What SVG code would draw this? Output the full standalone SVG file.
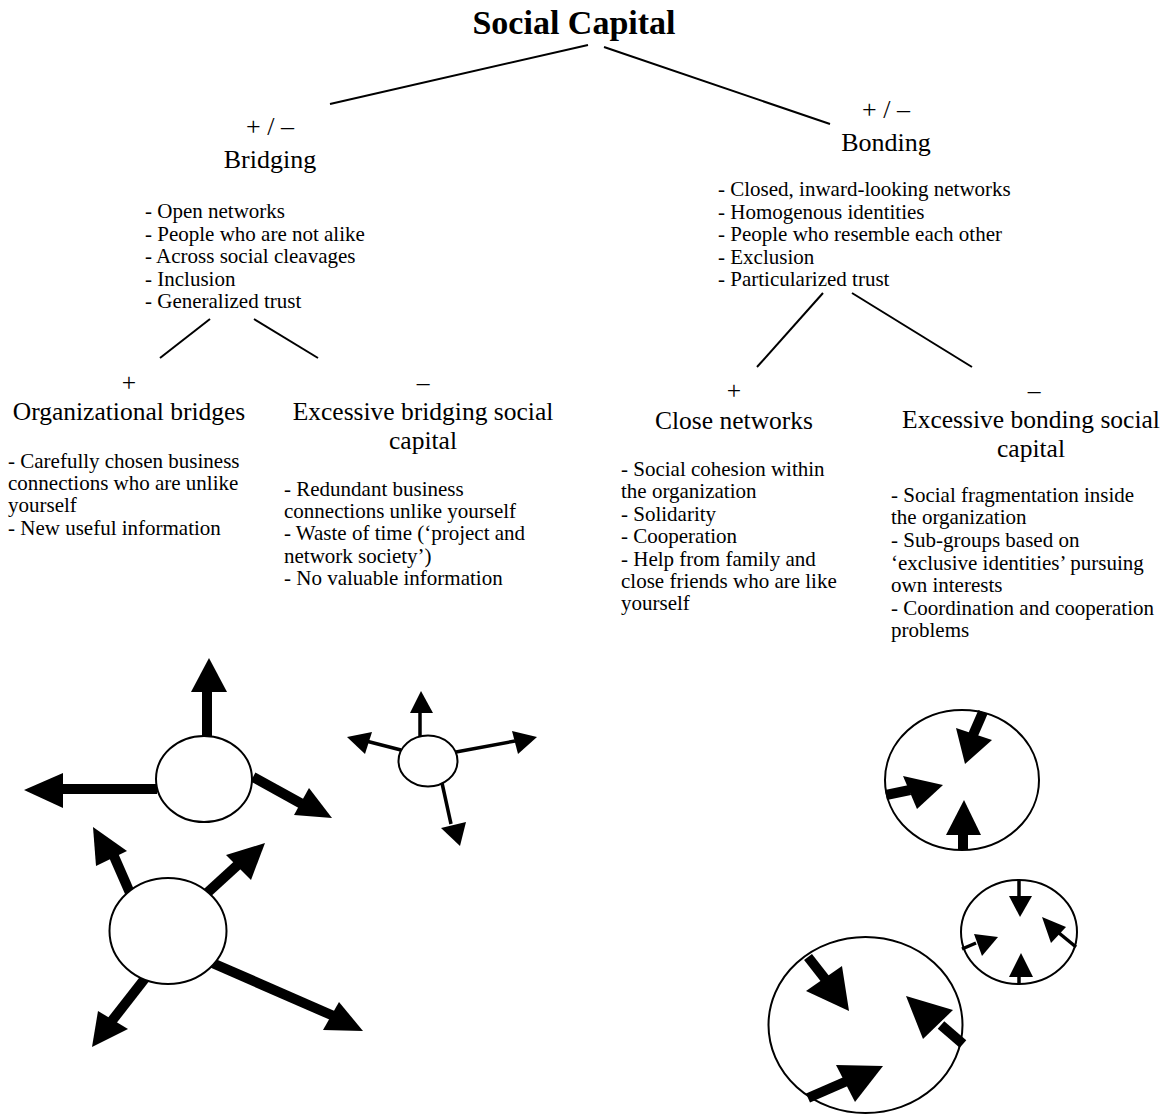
<svg xmlns="http://www.w3.org/2000/svg" width="1163" height="1114" viewBox="0 0 1163 1114">
<style>
text{font-family:"Liberation Serif","Times New Roman",serif;fill:#000}
.title{font-size:34px;font-weight:bold;text-anchor:middle}
.h1{font-size:26px;text-anchor:middle}
.h2{font-size:25.5px;text-anchor:middle}
.li{font-size:21px}
.conn line{stroke:#000;stroke-width:2}
.ell{fill:#fff;stroke:#000;stroke-width:2}
.thick{stroke:#000;stroke-width:10;fill:none}
.thin{stroke:#000;stroke-width:3.5;fill:none}
.head{fill:#000}
</style>
<rect width="1163" height="1114" fill="#fff"/>
<g id="connectors" class="conn">
<line x1="588" y1="45" x2="330" y2="104"/>
<line x1="604" y1="47" x2="830" y2="124"/>
<line x1="210" y1="319" x2="160" y2="358"/>
<line x1="254" y1="319" x2="318" y2="358"/>
<line x1="823" y1="293" x2="757" y2="367"/>
<line x1="852" y1="293" x2="972" y2="367"/>
</g>
<g id="title"><text class="title" x="574" y="34">Social Capital</text></g>
<g id="bridging">
<text class="h1" x="270" y="135">+ / –</text>
<text class="h1" x="270" y="168">Bridging</text>
<text class="li"><tspan x="145" y="218">- Open networks</tspan><tspan x="145" y="240.5">- People who are not alike</tspan><tspan x="145" y="263">- Across social cleavages</tspan><tspan x="145" y="285.5">- Inclusion</tspan><tspan x="145" y="308">- Generalized trust</tspan></text>
</g>
<g id="bonding">
<text class="h1" x="886" y="118">+ / –</text>
<text class="h1" x="886" y="151">Bonding</text>
<text class="li"><tspan x="718" y="196">- Closed, inward-looking networks</tspan><tspan x="718" y="218.5">- Homogenous identities</tspan><tspan x="718" y="241">- People who resemble each other</tspan><tspan x="718" y="263.5">- Exclusion</tspan><tspan x="718" y="286">- Particularized trust</tspan></text>
</g>
<g id="org-bridges">
<text class="h2" x="129" y="391">+</text>
<text class="h2" x="129" y="420">Organizational bridges</text>
<text class="li"><tspan x="8" y="468">- Carefully chosen business</tspan><tspan x="8" y="490">connections who are unlike</tspan><tspan x="8" y="512">yourself</tspan><tspan x="8" y="535">- New useful information</tspan></text>
</g>
<g id="excessive-bridging">
<text class="h2" x="423" y="391">–</text>
<text class="h2" x="423" y="420">Excessive bridging social</text>
<text class="h2" x="423" y="449">capital</text>
<text class="li"><tspan x="284" y="496">- Redundant business</tspan><tspan x="284" y="518">connections unlike yourself</tspan><tspan x="284" y="540">- Waste of time (‘project and</tspan><tspan x="284" y="563">network society’)</tspan><tspan x="284" y="585">- No valuable information</tspan></text>
</g>
<g id="close-networks">
<text class="h2" x="734" y="399">+</text>
<text class="h2" x="734" y="429">Close networks</text>
<text class="li"><tspan x="621" y="476">- Social cohesion within</tspan><tspan x="621" y="498">the organization</tspan><tspan x="621" y="521">- Solidarity</tspan><tspan x="621" y="543">- Cooperation</tspan><tspan x="621" y="566">- Help from family and</tspan><tspan x="621" y="588">close friends who are like</tspan><tspan x="621" y="610">yourself</tspan></text>
</g>
<g id="excessive-bonding">
<text class="h2" x="1034" y="399">–</text>
<text class="h2" x="1031" y="428">Excessive bonding social</text>
<text class="h2" x="1031" y="457">capital</text>
<text class="li"><tspan x="891" y="502">- Social fragmentation inside</tspan><tspan x="891" y="524">the organization</tspan><tspan x="891" y="547">- Sub-groups based on</tspan><tspan x="891" y="570">‘exclusive identities’ pursuing</tspan><tspan x="891" y="592">own interests</tspan><tspan x="891" y="615">- Coordination and cooperation</tspan><tspan x="891" y="637">problems</tspan></text>
</g>
<g id="bridging-network-1">
<line class="thick" x1="207" y1="744" x2="207" y2="690"/>
<polygon class="head" points="209,658 191,692 227,692"/>
<line class="thick" x1="157" y1="789" x2="60" y2="789"/>
<polygon class="head" points="24,790 63,773 63,808"/>
<line class="thick" x1="253" y1="777" x2="302" y2="804"/>
<polygon class="head" points="332,818 309,788 294,815"/>
<ellipse class="ell" cx="204" cy="779" rx="48" ry="43"/>
</g>
<g id="bridging-network-2">
<line class="thin" x1="420" y1="738" x2="420" y2="712"/>
<polygon class="head" points="421,691 410,713 433,713"/>
<line class="thin" x1="401" y1="750" x2="366" y2="741"/>
<polygon class="head" points="347,737 372,732 365,754"/>
<line class="thin" x1="456" y1="752" x2="515" y2="741"/>
<polygon class="head" points="537,737 512,731 518,754"/>
<line class="thin" x1="442" y1="783" x2="451" y2="824"/>
<polygon class="head" points="460,846 441,828 466,822"/>
<ellipse class="ell" cx="428" cy="761" rx="29.5" ry="25.5"/>
</g>
<g id="bridging-network-3">
<line class="thick" x1="130" y1="893" x2="113" y2="854"/>
<polygon class="head" points="93,827 127,851 96,866"/>
<line class="thick" x1="207" y1="893" x2="242" y2="861"/>
<polygon class="head" points="265,843 226,855 251,880"/>
<line class="thick" x1="150" y1="972" x2="111" y2="1022"/>
<polygon class="head" points="92,1047 98,1011 128,1029"/>
<line class="thick" x1="210" y1="962" x2="336" y2="1017"/>
<polygon class="head" points="363,1031 339,1002 323,1030"/>
<ellipse class="ell" cx="168" cy="931" rx="58.5" ry="53"/>
</g>
<g id="bonding-network-1">
<ellipse class="ell" cx="962" cy="780" rx="77" ry="70"/>
<line class="thick" x1="983" y1="712" x2="973" y2="735"/>
<polygon class="head" points="965,764 956,728 992,740"/>
<line class="thick" x1="886" y1="795" x2="910" y2="790"/>
<polygon class="head" points="943,785 903,776 917,809"/>
<line class="thick" x1="963" y1="850" x2="963" y2="833"/>
<polygon class="head" points="964,800 946,835 981,835"/>
</g>
<g id="bonding-network-2">
<ellipse class="ell" cx="1019" cy="932" rx="58" ry="52"/>
<line class="thin" x1="1019" y1="881" x2="1019" y2="897"/>
<polygon class="head" points="1020,917 1009,896 1032,896"/>
<line class="thin" x1="1076" y1="947" x2="1059" y2="933"/>
<polygon class="head" points="1042,917 1066,927 1051,943"/>
<line class="thin" x1="962" y1="949" x2="976" y2="943"/>
<polygon class="head" points="998,937 974,934 982,956"/>
<line class="thin" x1="1019" y1="984" x2="1019" y2="975"/>
<polygon class="head" points="1021,953 1009,977 1033,977"/>
</g>
<g id="bonding-network-3">
<ellipse class="ell" cx="865.5" cy="1025" rx="97" ry="88"/>
<line class="thick" x1="808" y1="957" x2="826" y2="980"/>
<polygon class="head" points="849,1011 806,991 842,966"/>
<line class="thick" x1="963" y1="1044" x2="941" y2="1025"/>
<polygon class="head" points="906,996 923,1039 953,1010"/>
<line class="thick" x1="808" y1="1098" x2="847" y2="1081"/>
<polygon class="head" points="883,1066 836,1065 855,1102"/>
</g>
</svg>
